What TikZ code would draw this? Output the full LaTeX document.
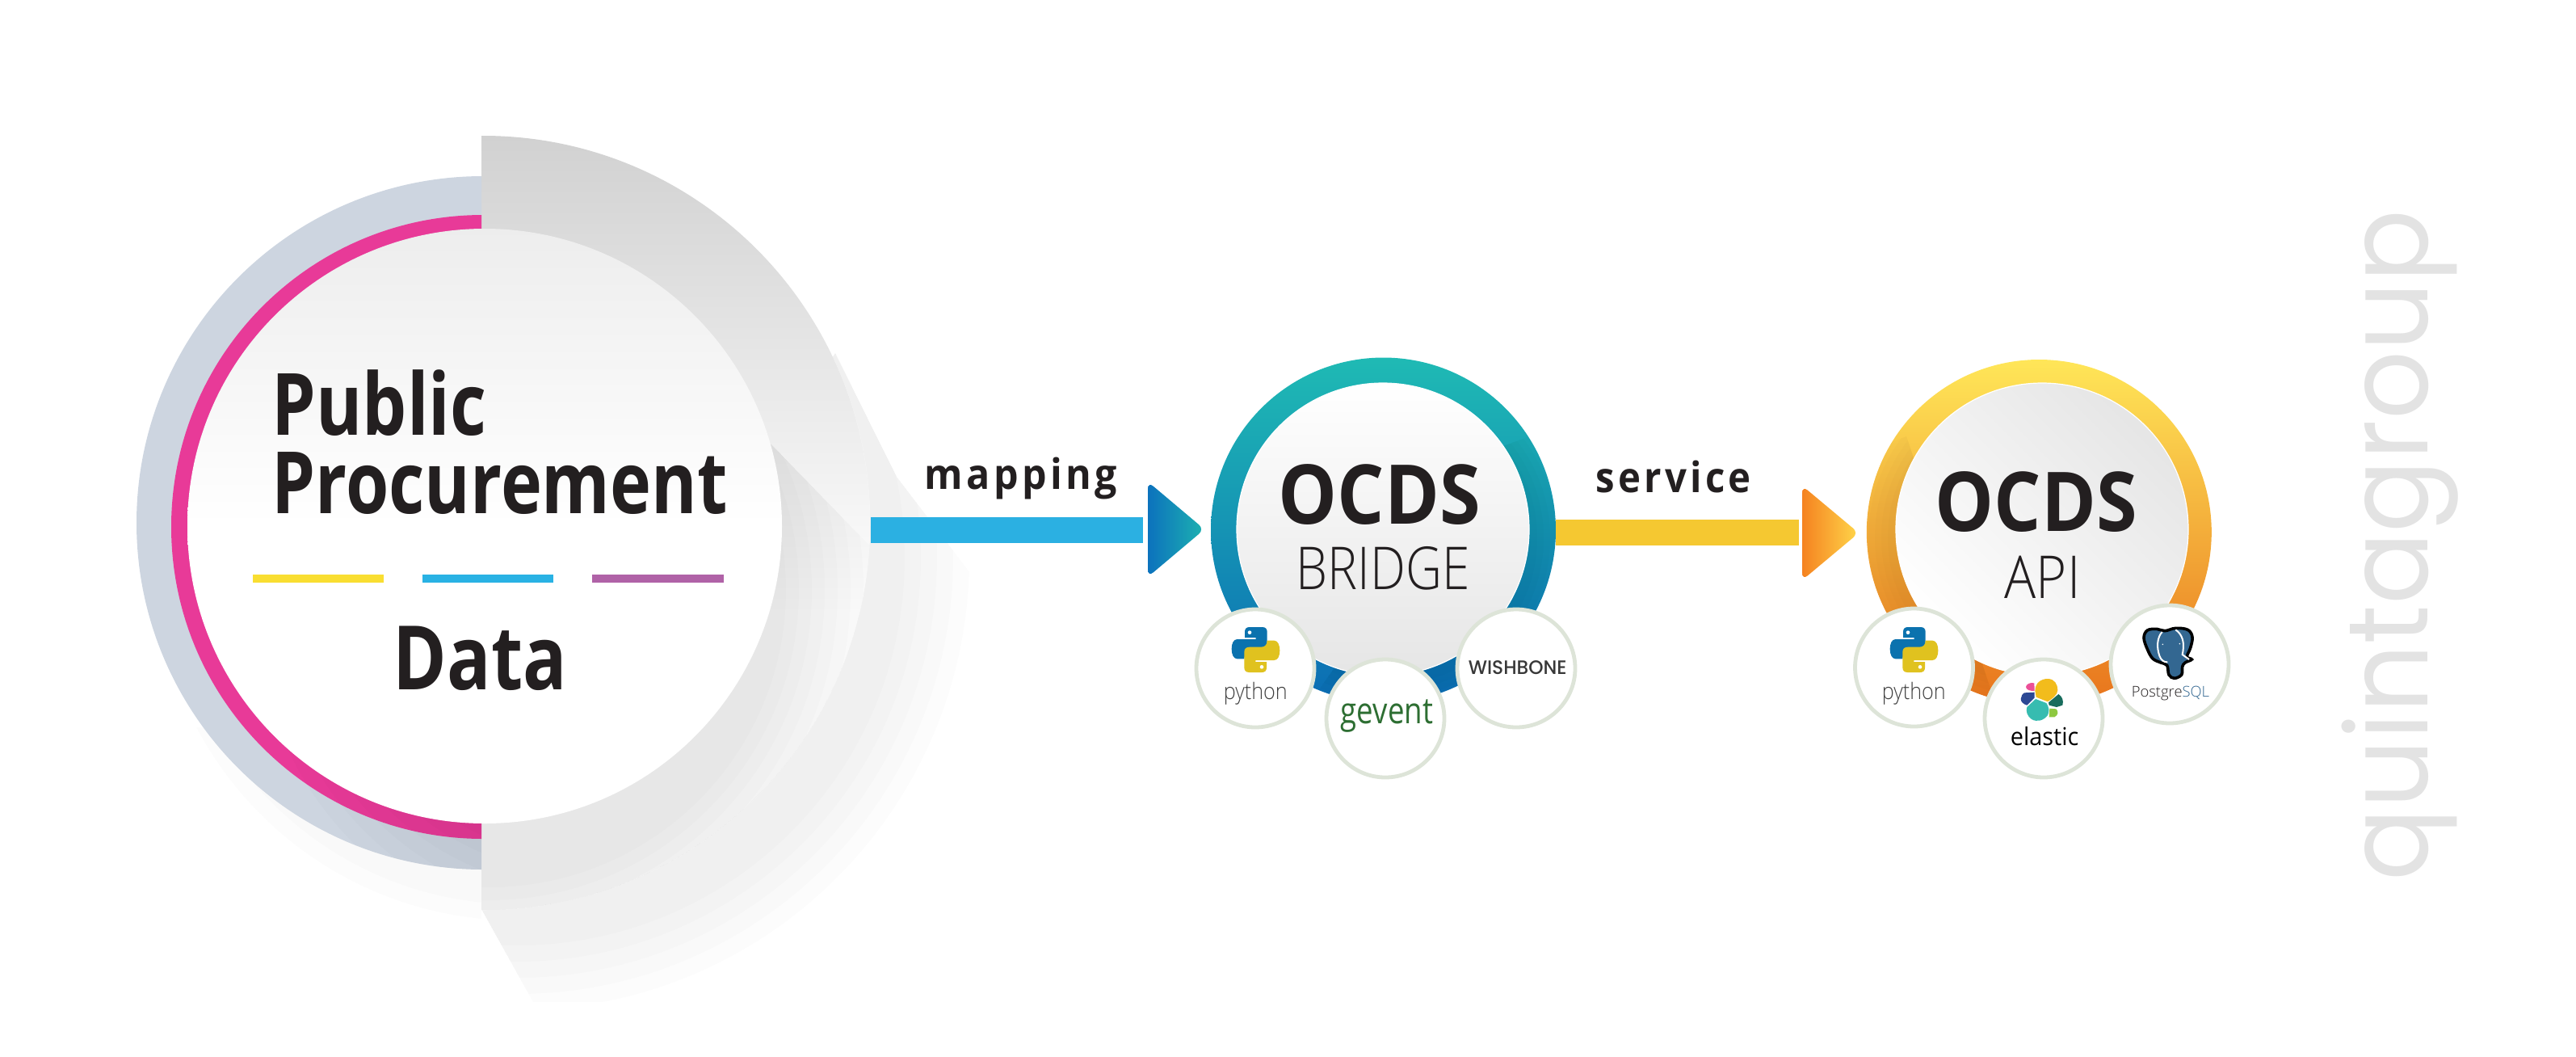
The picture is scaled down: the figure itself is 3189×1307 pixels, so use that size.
\documentclass[tikz,border=0pt]{standalone}
\usepackage{fontspec}
\usepackage{graphicx}
\setmainfont{Open Sans}
\newfontfamily\hbold{Open Sans}[Scale=1,BoldFont=* Bold]
\newfontfamily\hlight{Open Sans Light}
\newfontfamily\hspaced{Open Sans}[LetterSpace=9]
\newfontfamily\qfont{Poppins}
\newfontfamily\wfont{Poppins Medium}
\newcommand{\sx}[2]{\scalebox{#1}[1]{#2}}
\usetikzlibrary{calc}
\definecolor{txtd}{HTML}{231F20}
\definecolor{pink}{HTML}{E83A98}
\definecolor{slate}{HTML}{CDD5E0}
\definecolor{chip}{HTML}{DDE4D8}
\definecolor{pyb}{HTML}{0B72AE}
\definecolor{pyy}{HTML}{E0C21F}
\definecolor{pg}{HTML}{336791}
\definecolor{ly}{HTML}{F9DE31}
\definecolor{lb}{HTML}{29B2E4}
\definecolor{lp}{HTML}{B062A7}
\definecolor{bt}{HTML}{1FBAB4}
\definecolor{bb}{HTML}{0B6CB4}
\definecolor{at}{HTML}{FFE658}
\definecolor{ab}{HTML}{E8741C}
\definecolor{barb}{HTML}{2BB0E2}
\definecolor{bary}{HTML}{F5C831}
\definecolor{t1a}{HTML}{0C72BD}
\definecolor{t1b}{HTML}{0E78BE}
\definecolor{t1c}{HTML}{1DB2B0}
\definecolor{t2a}{HTML}{F58220}
\definecolor{t2b}{HTML}{F68822}
\definecolor{t2c}{HTML}{FFD64A}
\definecolor{gev}{HTML}{2D6E32}
\definecolor{ey}{HTML}{F2BC1C}
\definecolor{ep}{HTML}{EC5098}
\definecolor{eb}{HTML}{2C4894}
\definecolor{et}{HTML}{36BCB0}
\definecolor{ed}{HTML}{186C5C}
\definecolor{eg}{HTML}{8EC840}
\tikzset{
  tl/.style={inner sep=0pt,anchor=base west,text=txtd},
  chipc/.style={circle,draw=chip,line width=1.2pt,fill=white,minimum size=36.5pt,inner sep=0pt},
  inner disc/.style={circle,minimum size=90.5pt,inner sep=0pt,draw=white,line width=.3pt},
  ring/.style={circle,minimum size=106.75pt,inner sep=0pt},
  bar/.style={line width=8pt},
  softsh/.style={black,opacity=.01},
  pylogo/.pic={
    \begin{scope}[scale=1/3,shift={(-132.5,-111)}]
      \fill[pyb] (110,27)--(157,27)..controls(170,27)and(175,35)..(175,45)--(175,103)..controls(175,115)and(168,121)..(155,121)--(112,121)..controls(98,121)and(90,130)..(90,145)--(64,145)..controls(50,145)and(43,128)..(43,108)..controls(43,88)and(50,72)..(64,72)--(133,72)--(133,66)--(92,66)--(92,45)..controls(92,33)and(98,27)..(110,27)--cycle;
      \fill[white] (110,47) circle[radius=7];
      \fill[pyy] (155,195)--(108,195)..controls(95,195)and(90,187)..(90,177)--(90,119)..controls(90,107)and(97,101)..(110,101)--(153,101)..controls(167,101)and(175,92)..(175,77)--(201,77)..controls(215,77)and(222,94)..(222,114)..controls(222,134)and(215,150)..(201,150)--(132,150)--(132,156)--(173,156)--(173,177)..controls(173,189)and(167,195)..(155,195)--cycle;
      \fill[white] (155,175) circle[radius=7];
    \end{scope}
  }
}
\begin{document}
\begin{tikzpicture}[x=.25pt,y=-.25pt]
\useasboundingbox (0,0) rectangle (3189,1307);
% --- outer long shadow
\begin{scope}
  \clip (596,1125)--(660,1240)--(1240,1240)--(1240,760)--(1110,590)--(1034,437)--cycle;
  \foreach \r in {480,500,...,560}{\fill[softsh] (640,690) circle[radius=\r];}
\end{scope}
% --- soft shadow under left half
\begin{scope}
  \clip (100,900) rectangle (596,1180);
  \foreach \r in {429,449}{\fill[softsh] (640,690) circle[radius=\r];}
\end{scope}
% --- outer disc, right half
\begin{scope}
  \clip (596,0) rectangle (1200,1307);
  \node[circle,fill=white,minimum size=239.5pt,inner sep=0pt] (outer) at (598,647) {};
  \clip (598,647) circle[radius=479];
  \shade[top color=black!18,bottom color=white] (596,168) rectangle (1090,760);
  \begin{scope}
    \clip (950,545)--(1120,720)--(1120,1200)--(596,1200)--(596,900)--cycle;
    \foreach \r in {368,384,...,480}{\fill[softsh] (605,730) circle[radius=\r];}
  \end{scope}
\end{scope}
% --- left half rings
\begin{scope}
  \clip (0,0) rectangle (596,1307);
  \fill[slate] (598,647) circle[radius=429];
  \fill[pink] (598,652) circle[radius=386];
  \begin{scope}
    \clip (598,647) circle[radius=429];
    \foreach \r in {300,320,...,400}{\fill[softsh] (720,760) circle[radius=\r];}
  \end{scope}
\end{scope}
% --- inner disc
\node[circle,minimum size=184pt,inner sep=0pt,top color=black!7,bottom color=white,middle color=white] (maindisc) at (600,651) {};
\node[tl,font=\hbold\bfseries\fontsize{26.6}{30}\selectfont] (public) at (336,538) {\sx{.82}{Public}};
\node[tl,font=\hbold\bfseries\fontsize{26.6}{30}\selectfont] (procure) at (336,635) {\sx{.81}{Procurement}};
\node[tl,font=\hbold\bfseries\fontsize{27.5}{30}\selectfont] (data) at (486,853) {\sx{.82}{Data}};
\fill[ly] (313,711) rectangle (475,721);
\fill[lb] (523,711) rectangle (685,721);
\fill[lp] (733,711) rectangle (896,721);
% --- bridge
\node[ring,top color=bt,bottom color=bb] (bridge) at (1712.5,656) {};
\begin{scope}
  \clip (bridge.center) circle[radius=213.5];
  \clip (1840,560)--(2000,500)--(2000,900)--(1600,900)--cycle;
  \foreach \r in {181,189,...,217}{\fill[softsh] (1722,666) circle[radius=\r];}
\end{scope}
\node[inner disc,top color=white,bottom color=black!10] (bridgein) at (1712,655) {};
\node[tl,font=\hbold\bfseries\fontsize{25.5}{30}\selectfont] (ocds1) at (1582,648) {\sx{.9}{OCDS}};
\node[tl,font=\hlight\fontsize{18.3}{22}\selectfont] (bridget) at (1604,729) {\sx{.85}{BRIDGE}};
% --- api
\node[ring,top color=at,bottom color=ab] (api) at (2524.3,658.5) {};
\begin{scope}
  \clip (api.center) circle[radius=213.5];
  \clip (2360,540)--(2200,600)--(2200,900)--(2480,900)--cycle;
  \foreach \r in {181,189,...,217}{\fill[softsh] (2518,665) circle[radius=\r];}
\end{scope}
\node[inner disc,left color=black!10,right color=white,shading angle=-45] (apiin) at (2528,655) {};
\node[tl,font=\hbold\bfseries\fontsize{25.5}{30}\selectfont] (ocds2) at (2395,657.5) {\sx{.9}{OCDS}};
\node[tl,font=\hlight\fontsize{18.3}{22}\selectfont] (apit) at (2481,740) {\sx{.89}{API}};
% --- connectors
\coordinate (m1) at (1078,656);\coordinate (m2) at (1415,656);
\coordinate (s1) at (1926,659);\coordinate (s2) at (2227,659);
\draw[bar,color=barb] (m1)--(m2);
\draw[bar,color=bary] (s1)--(s2);
\shade[rounded corners=2.2pt,left color=t1a,middle color=t1b,right color=t1c] (1421,596)--(1491,655)--(1421,714)--cycle;
\shade[rounded corners=2.2pt,left color=t2a,middle color=t2b,right color=t2c] (2231,601)--(2301,659.5)--(2231,718)--cycle;
\node[tl,font=\hspaced\bfseries\fontsize{13}{16}\selectfont] (mapl) at (1144,605) {\sx{.93}{mapping}};
\node[tl,font=\hspaced\bfseries\fontsize{13}{16}\selectfont] (serl) at (1975,609) {\sx{.91}{service}};
% --- chips
\node[chipc] (py1) at (1554,827) {};
\node[chipc] (gevc) at (1715,889) {};
\node[chipc] (wis) at (1877,827) {};
\node[chipc] (py2) at (2369.5,826) {};
\node[chipc] (ela) at (2530,889) {};
\node[chipc] (pgs) at (2686,822) {};
\pic at (1554.5,804) {pylogo};
\pic at (2369.5,804) {pylogo};
\node[tl,font=\hlight\fontsize{7}{10}\selectfont,text=black!75] (pyt1) at (1514,865) {\sx{.9}{python}};
\node[tl,font=\hlight\fontsize{7}{10}\selectfont,text=black!75] (pyt2) at (2329,865) {\sx{.9}{python}};
\node[tl,font=\hbold\fontsize{11.3}{14}\selectfont,text=gev] (gevt) at (1659,895) {\sx{.81}{gevent}};
\node[tl,font=\wfont\fontsize{6}{8}\selectfont,text=black!78] (wist) at (1817,834) {\sx{.97}{WISHBONE}};
% elastic logo
\begin{scope}[shift={(2480,830)},scale=1/3]
 \fill[ey] (118,75)..controls(118,45)and(140,30)..(165,30)..controls(190,30)and(202,50)..(202,72)..controls(202,90)and(180,105)..(165,115)--(122,98)--cycle;
 \fill[ep] (84,60)..controls(85,50)and(100,42)..(115,46)--(116,75)..controls(100,75)and(85,72)..(84,60)--cycle;
 \fill[eb] (78,82)--(116,80)--(116,100)--(88,128)..controls(75,125)and(65,115)..(65,105)..controls(65,95)and(72,85)..(78,82)--cycle;
 \fill[et] (120,105)--(160,120)..controls(170,135)and(172,150)..(165,165)..controls(150,185)and(125,192)..(105,180)..controls(90,170)and(82,150)..(88,135)--cycle;
 \fill[ed] (205,87)..controls(218,95)and(225,110)..(220,128)--(198,135)--(170,128)--(168,118)--cycle;
 \fill[eg] (172,140)--(196,142)..controls(205,150)and(205,165)..(190,172)--(170,172)--cycle;
\end{scope}
\node[tl,font=\hbold\fontsize{7.6}{12}\selectfont,text=black] (elat) at (2488,922) {\sx{.95}{elastic}};
% postgres logo
\begin{scope}[shift={(2630,760)},scale=1/3]
 \draw[black,line width=.9pt,fill=pg] plot[smooth cycle,tension=.6] coordinates {(72,88)(85,60)(120,55)(150,62)(190,52)(235,58)(252,85)(245,125)(232,158)(250,168)(225,180)(215,195)(212,225)(185,238)(165,225)(158,190)(135,180)(105,165)(85,130)};
 \draw[white,line width=.5pt] (140,66)..controls(122,85)and(118,120)..(130,155)..controls(135,170)and(148,180)..(160,178);
 \draw[white,line width=.5pt] (190,58)..controls(215,75)and(225,105)..(215,150)--(240,168);
 \fill[white] (142,112) circle[radius=2.5];
 \fill[white] (205,110) circle[radius=2.5];
\end{scope}
\node[tl,font=\hlight\fontsize{4.6}{8}\selectfont] (pgt) at (2638,862) {Postgre\textcolor{pg}{SQL}};
% --- brand
\node[inner sep=0pt,anchor=base west,rotate=90,text=black!11,font=\qfont\fontsize{35}{40}\selectfont] (brand) at (3005,1091) {\sx{.95}{quintagroup}};
\end{tikzpicture}
\end{document}
